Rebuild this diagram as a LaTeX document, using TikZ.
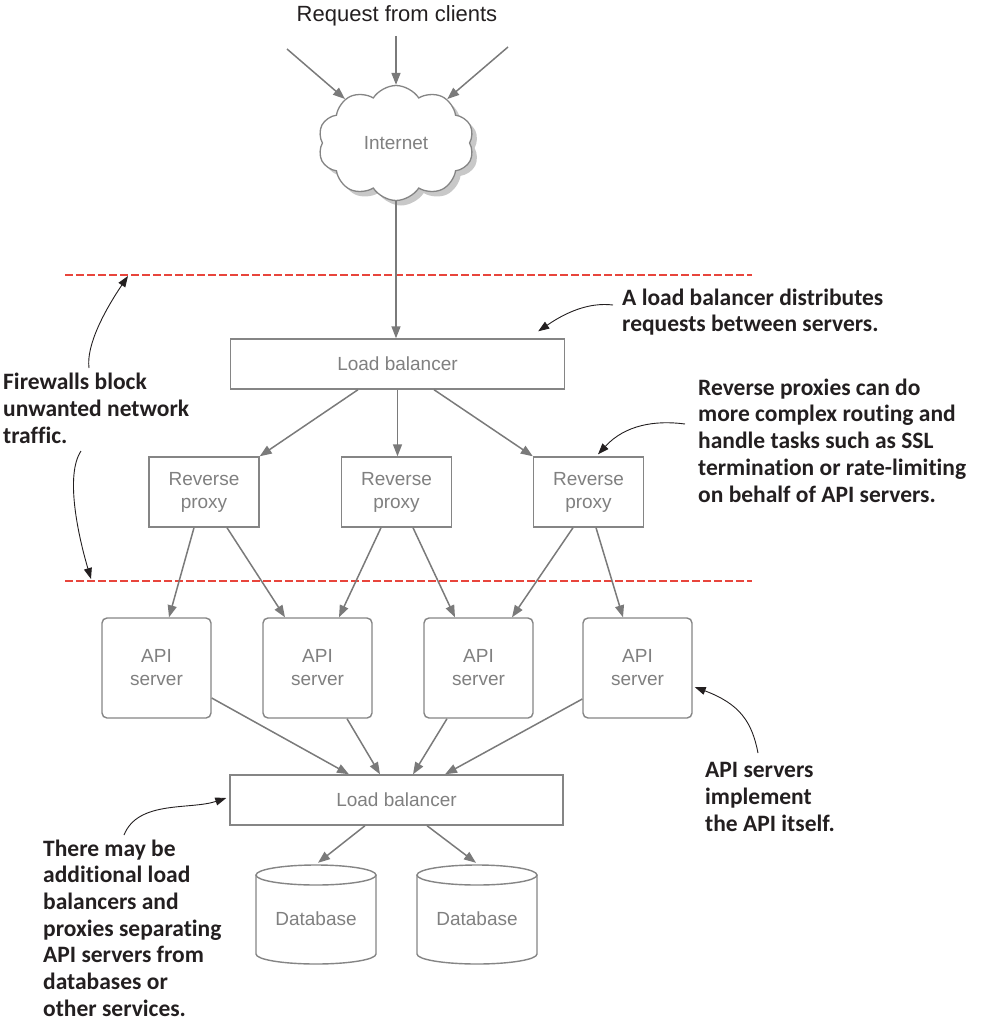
\documentclass[tikz,border=0pt]{standalone}
\usepackage{fontspec}
\setmainfont{Liberation Sans}
\newfontfamily\notefont{Carlito}[Ligatures={NoCommon}]
\usetikzlibrary{arrows.meta,shapes.symbols,shadows,calc}
\definecolor{boxgray}{HTML}{858585}
\definecolor{txtgray}{HTML}{808080}
\definecolor{arrgray}{HTML}{7A7A7A}
\definecolor{notecol}{HTML}{231F20}
\definecolor{fwred}{HTML}{E8453C}
\definecolor{shadowgray}{HTML}{C8C8C8}
\begin{document}
\begin{tikzpicture}[x=1pt,y=-1pt,
  gbox/.style={draw=boxgray, line width=1.4pt, fill=white, text=txtgray,
    font=\fontsize{19}{23}\selectfont, align=center, inner sep=0pt},
  apibox/.style={gbox, rounded corners=5pt, minimum width=109pt, minimum height=100pt},
  rpbox/.style={gbox, minimum width=110pt, minimum height=70pt},
  lbbox/.style={gbox, minimum width=334pt, minimum height=50pt},
  garrow/.style={draw=arrgray, line width=1.5pt, -{Triangle[length=12pt,width=9pt]}},
  note/.style={font=\notefont\bfseries\fontsize{23.5}{26.7}\selectfont, text=notecol,
    align=left, anchor=west, inner sep=0pt},
  narrow/.style={draw=notecol, line width=0.9pt, -{Triangle[length=11pt,width=8pt]}},
  fwline/.style={draw=fwred, line width=1.3pt, dash pattern=on 8pt off 3pt},
  dbline/.style={draw=boxgray, line width=1.4pt},
  dbcyl/.pic={
    \draw[dbline, fill=white] (-60,-44) -- (-60,35) arc[start angle=180, end angle=0, x radius=60, y radius=10] -- (60,-44);
    \draw[dbline, fill=white] (0,-44) ellipse[x radius=60, y radius=10];
  }
]
\useasboundingbox (0,0) rectangle (983,1022);

% title
\node[font=\fontsize{22}{26}\selectfont, text=notecol, inner sep=0pt] (title) at (397,16) {Request from clients};

% cloud
\node[cloud, cloud puffs=10, cloud puff arc=115, aspect=1.35, draw=boxgray, line width=1.3pt,
  fill=white, drop shadow={shadow xshift=5pt, shadow yshift=-5pt, fill=shadowgray, opacity=1},
  minimum width=156pt, minimum height=115pt, text=txtgray, font=\fontsize{19}{23}\selectfont,
  inner sep=0pt] (net) at (396,143) {Internet};

\coordinate (c1) at (287,49);
\coordinate (c2) at (396,36);
\coordinate (c3) at (508,47);
\draw[garrow] (c1) -- (net);
\draw[garrow] (c2) -- (net);
\draw[garrow] (c3) -- (net);

% firewall lines
\coordinate (fw1a) at (65,275);
\coordinate (fw1b) at (752,275);
\coordinate (fw2a) at (65,581);
\coordinate (fw2b) at (752,581);
\draw[fwline] (fw1a) -- (fw1b);
\draw[fwline] (fw2a) -- (fw2b);

% load balancer 1
\node[lbbox] (lb1) at (397.5,364) {Load balancer};
\draw[garrow] (net.south) -- (net.south |- lb1.north);

% reverse proxies
\node[rpbox] (rp1) at (204,492) {Reverse\\proxy};
\node[rpbox] (rp2) at (396.5,492) {Reverse\\proxy};
\node[rpbox] (rp3) at (588.5,492) {Reverse\\proxy};

\draw[garrow] ($(lb1.south)+(-39.5,0)$) -- (rp1.north east);
\draw[garrow] (lb1.south) -- (lb1.south |- rp2.north);
\draw[garrow] ($(lb1.south)+(36.5,0)$) -- (rp3.north west);

% API servers
\node[apibox] (api1) at (156.5,668) {API\\server};
\node[apibox] (api2) at (317.5,668) {API\\server};
\node[apibox] (api3) at (478.5,668) {API\\server};
\node[apibox] (api4) at (637.5,668) {API\\server};

\draw[garrow] ($(rp1.south)+(-10,0)$) -- ($(api1.north)+(12.5,0)$);
\draw[garrow] ($(rp1.south)+(23,0)$) -- ($(api2.north)+(-32.5,0)$);
\draw[garrow] ($(rp2.south)+(-15.5,0)$) -- ($(api2.north)+(21.5,0)$);
\draw[garrow] ($(rp2.south)+(16.5,0)$) -- ($(api3.north)+(-23.5,0)$);
\draw[garrow] ($(rp3.south)+(-15.5,0)$) -- ($(api3.north)+(33.5,0)$);
\draw[garrow] ($(rp3.south)+(7.5,0)$) -- ($(api4.north)+(-14.5,0)$);

% load balancer 2
\node[lbbox, minimum width=333pt] (lb2) at (396.5,800) {Load balancer};

\draw[garrow] ($(api1.east)+(0,30)$) -- ($(lb2.north)+(-47.5,0)$);
\draw[garrow] ($(api2.south)+(29.5,0)$) -- ($(lb2.north)+(-16.5,0)$);
\draw[garrow] ($(api3.south)+(-31.5,0)$) -- ($(lb2.north)+(16.5,0)$);
\draw[garrow] ($(api4.west)+(0,31)$) -- ($(lb2.north)+(48.5,0)$);

% databases
\pic at (316,919) {dbcyl};
\pic at (477,919) {dbcyl};
\node[text=txtgray, font=\fontsize{19}{23}\selectfont, inner sep=0pt, minimum width=120pt, minimum height=90pt] (db1) at (316,919) {Database};
\node[text=txtgray, font=\fontsize{19}{23}\selectfont, inner sep=0pt, minimum width=120pt, minimum height=90pt] (db2) at (477,919) {Database};

\draw[garrow] ($(lb2.south)+(-31.5,0)$) -- ($(db1.north)+(2,-11)$);
\draw[garrow] ($(lb2.south)+(30.5,0)$) -- ($(db2.north)+(-1,-11)$);

% annotations
\node[note] (nlb) at (622,312) {A load balancer distributes\\requests between servers.};
\node[note] (nrp) at (698,440.5) {Reverse proxies can do\\more complex routing and\\handle tasks such as SSL\\termination or rate-limiting\\on behalf of API servers.};
\node[note] (nfw) at (3,408.5) {Firewalls block\\unwanted network\\traffic.};
\node[note] (napi) at (705,797) {API servers\\implement\\the API itself.};
\node[note] (ndb) at (43,928) {There may be\\additional load\\balancers and\\proxies separating\\API servers from\\databases or\\other services.};

\coordinate (alb) at (613,305);
\draw[narrow] (alb) .. controls (588,302) and (565,313) .. ($(lb1.north east)+(-27,-7)$);
\coordinate (arp) at (685,424);
\draw[narrow] (arp) .. controls (655,420) and (625,425) .. ($(rp3.north)+(9.5,-2)$);
\coordinate (afw1) at (89,368);
\coordinate (tfw1) at (128,276);
\draw[narrow] (afw1) .. controls (86,345) and (105,310) .. (tfw1);
\coordinate (afw2) at (81,451);
\coordinate (tfw2) at (91,579);
\draw[narrow] (afw2) .. controls (65,475) and (78,535) .. (tfw2);
\coordinate (aapi) at (758,753);
\draw[narrow] (aapi) .. controls (752,722) and (740,704) .. ($(api4.east)+(2,19)$);
\coordinate (adb) at (124,835);
\draw[narrow] (adb) .. controls (138,800) and (190,810) .. ($(lb2.west)+(-3,-2)$);
\end{tikzpicture}
\end{document}
